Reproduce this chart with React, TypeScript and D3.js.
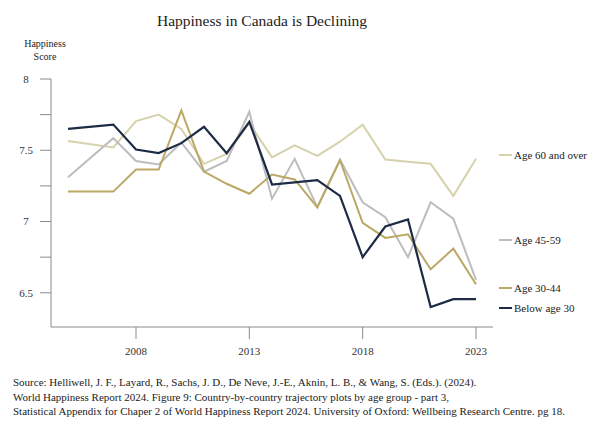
import * as d3 from 'd3';

const years = [2005, 2007, 2008, 2009, 2010, 2011, 2012, 2013, 2014, 2015, 2016, 2017, 2018, 2019, 2020, 2021, 2022, 2023];

const age60 = [7.565, 7.52, 7.705, 7.75, 7.65, 7.405, 7.475, 7.69, 7.45, 7.535, 7.46, 7.56, 7.68, 7.435, 7.42, 7.405, 7.18, 7.44];
const age45 = [7.31, 7.585, 7.425, 7.4, 7.555, 7.35, 7.425, 7.77, 7.16, 7.44, 7.1, 7.435, 7.135, 7.03, 6.75, 7.135, 7.02, 6.59];
const age30 = [7.21, 7.21, 7.365, 7.365, 7.78, 7.35, 7.265, 7.195, 7.33, 7.295, 7.1, 7.43, 6.99, 6.885, 6.91, 6.665, 6.81, 6.56];
const below30 = [7.65, 7.68, 7.505, 7.48, 7.55, 7.665, 7.48, 7.7, 7.26, 7.275, 7.29, 7.18, 6.75, 6.965, 7.015, 6.4, 6.455, 6.455];

const xTicks = [2008, 2013, 2018, 2023];
const yTicks = [6.5, 6.75, 7, 7.25, 7.5, 7.75, 8];
const yLabels = ['6.5', '7', '7.5', '8'];

const sourceLines = [
  'Source: Helliwell, J. F., Layard, R., Sachs, J. D., De Neve, J.-E., Aknin, L. B., & Wang, S. (Eds.). (2024).',
  'World Happiness Report 2024. Figure 9: Country-by-country trajectory plots by age group - part 3,',
  'Statistical Appendix for Chaper 2 of World Happiness Report 2024. University of Oxford: Wellbeing Research Centre. pg 18.',
];

const series = [
  { name: 'Age 60 and over', values: age60, color: '#d6d2ab', labelY: 155, w: 2 },
  { name: 'Age 45-59', values: age45, color: '#bdbdbf', labelY: 240, w: 2 },
  { name: 'Age 30-44', values: age30, color: '#bba865', labelY: 288, w: 2 },
  { name: 'Below age 30', values: below30, color: '#1d2b45', labelY: 308, w: 2.2 },
];

const FONT = '"Liberation Serif", "Times New Roman", serif';

export default function App() {
  const width = 600;
  const height = 422;
  const left = 51;
  const right = 493;
  const bottom = 327;

  const x = d3.scaleLinear().domain([2004.25, 2023.75]).range([left, right]);
  const y = d3.scaleLinear().domain([6.26, 8]).range([bottom, 79]);

  const line = d3.line<number>()
    .x((d, i) => x(years[i]))
    .y(d => y(d));

  const axisColor = '#8a8a8a';

  return (
    <div style={{ position: 'fixed', top: 0, left: 0 }}>
      <svg width={width} height={height} style={{ display: 'block', background: '#fff' }} fontFamily={FONT}>
        <text x={262} y={26} textAnchor="middle" fontSize={15.5} fill="#222">Happiness in Canada is Declining</text>

        <text x={45} y={47} textAnchor="middle" fontSize={10} fill="#222">Happiness</text>
        <text x={45} y={60} textAnchor="middle" fontSize={10} fill="#222">Score</text>

        {/* y axis */}
        <line x1={left} x2={left} y1={y(8)} y2={bottom} stroke={axisColor} strokeWidth={1} />
        {yTicks.map(t => (
          <line key={t} x1={left - 11} x2={left} y1={y(t)} y2={y(t)} stroke={axisColor} strokeWidth={1} />
        ))}
        {yLabels.map(l => (
          <text key={l} x={26} y={y(+l)} dy="0.35em" textAnchor="middle" fontSize={11} fill="#333">{l}</text>
        ))}

        {/* x axis */}
        <line x1={left} x2={right} y1={bottom} y2={bottom} stroke={axisColor} strokeWidth={1} />
        {xTicks.map(t => (
          <g key={t}>
            <line x1={x(t)} x2={x(t)} y1={bottom} y2={bottom + 12} stroke={axisColor} strokeWidth={1} />
            <text x={x(t)} y={355} textAnchor="middle" fontSize={11} fill="#333">{t}</text>
          </g>
        ))}

        {series.map(s => (
          <path key={s.name} d={line(s.values) || ''} fill="none" stroke={s.color} strokeWidth={s.w} strokeLinejoin="miter" />
        ))}

        {series.map(s => (
          <g key={s.name + '-legend'}>
            <line x1={499} x2={512} y1={s.labelY} y2={s.labelY} stroke={s.color} strokeWidth={2} />
            <text x={514} y={s.labelY} dy="0.35em" fontSize={11} fill="#222">{s.name}</text>
          </g>
        ))}

        {sourceLines.map((l, i) => (
          <text key={i} x={13} y={386 + i * 14.5} fontSize={11} fill="#222">{l}</text>
        ))}
      </svg>
    </div>
  );
}
